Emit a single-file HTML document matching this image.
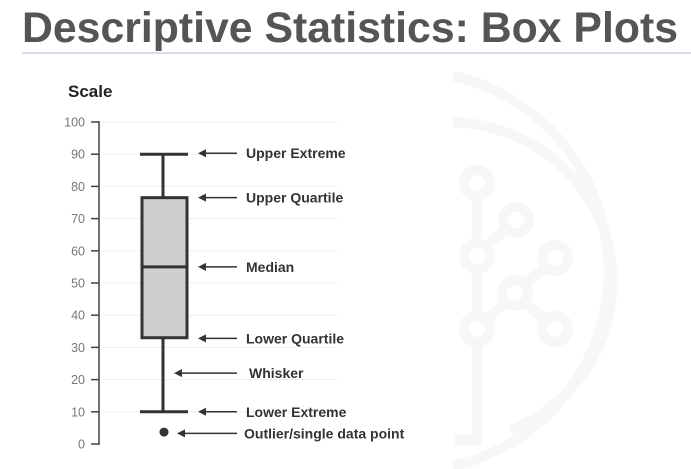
<!DOCTYPE html>
<html><head><meta charset="utf-8"><style>
html,body{margin:0;padding:0;background:#fff;}
body{width:691px;height:469px;overflow:hidden;position:relative;font-family:"Liberation Sans",sans-serif;}
</style></head><body>
<svg id="chart" width="691" height="469" viewBox="0 0 691 469" xmlns="http://www.w3.org/2000/svg" style="position:absolute;left:0;top:0">
  <g fill="none" stroke="#f7f7f9" stroke-width="10">
    <path d="M453,76 A200,200 0 0 1 453,466"/>
    <path d="M453,122 A165,160 0 0 1 510,430"/>
    <path d="M477,197 V242 M477,270 V315 M477,343 V440 H455"/>
    <circle cx="477" cy="183" r="13"/>
    <circle cx="516" cy="220" r="13"/>
    <circle cx="477" cy="256" r="13"/>
    <circle cx="515" cy="293" r="13"/>
    <circle cx="555" cy="258" r="13"/>
    <circle cx="555" cy="329" r="13"/>
    <circle cx="477" cy="329" r="13"/>
    <path d="M487,246 L506,229 M487,319 L505,302 M525,284 L545,267 M525,302 L545,320"/>
  </g>
  <text x="22" y="42" font-size="43" font-weight="bold" fill="#555" textLength="656" lengthAdjust="spacingAndGlyphs">Descriptive Statistics: Box Plots</text>
  <line x1="22" y1="53" x2="691" y2="53" stroke="#b8b8cc" stroke-width="1"/>
  <text x="68" y="97" font-size="17" font-weight="bold" fill="#222">Scale</text>
  <g id="plot"></g>
</svg>
<script>
const ticks = [0,10,20,30,40,50,60,70,80,90,100];
const lowerExtreme = 10;
const lowerQuartile = 33;
const median = 55;
const upperQuartile = 76.5;
const upperExtreme = 90;
const outliers = [3.7];
const annotLabels = ["Upper Extreme","Upper Quartile","Median","Lower Quartile","Whisker","Lower Extreme","Outlier/single data point"];
const annotValues = [90.3, 76.5, 55, 32.8, 22, 10, 3.3];

const NS="http://www.w3.org/2000/svg";
const g=document.getElementById('plot');
const y0=444, y100=122;
function y(v){return y0+(y100-y0)*v/100;}
const cx=163, bx1=142, bx2=187;
function mk(tag,attrs,parent){const e=document.createElementNS(NS,tag);for(const k in attrs)e.setAttribute(k,attrs[k]);(parent||g).appendChild(e);return e;}

ticks.forEach(t=>{
  if(t>0){const gl=mk('line',{x1:103,x2:337,y1:y(t),y2:y(t),stroke:'#ededed','stroke-width':1});
  
  }
  const tk=mk('line',{x1:91,x2:99,y1:y(t),y2:y(t),stroke:'#444','stroke-width':1.5});
  
  
  const tl=mk('text',{x:85,y:y(t)+4.5,'font-size':12.5,fill:'#777','text-anchor':'end'});
  tl.textContent=t;
  
  
});
const ax=mk('line',{x1:99,x2:99,y1:y(100)-1,y2:y(0)+1,stroke:'#444','stroke-width':1.5});



const wh=mk('line',{x1:cx,x2:cx,y1:y(upperExtreme),y2:y(lowerExtreme),stroke:'#333','stroke-width':3});


[upperExtreme,lowerExtreme].forEach((v,i)=>{
  const c=mk('line',{x1:bx1-2,x2:bx2+1,y1:y(v),y2:y(v),stroke:'#333','stroke-width':3});
  
  
});
const box=mk('rect',{x:bx1,y:y(upperQuartile),width:bx2-bx1,height:y(lowerQuartile)-y(upperQuartile),fill:'#cfcfcf',stroke:'#333','stroke-width':3});


const md=mk('line',{x1:bx1,x2:bx2,y1:y(median),y2:y(median),stroke:'#333','stroke-width':3});


outliers.forEach(v=>{
  const o=mk('circle',{cx:cx+1,cy:y(v),r:4.5,fill:'#333'});
  
  
});

annotLabels.forEach((lab,i)=>{
  const yy=y(annotValues[i]);
  const isW=lab==="Whisker", isO=i===6;
  const hx=isW?174:(isO?177:198), tx=237;
  const a=mk('line',{x1:hx+6,x2:tx,y1:yy,y2:yy,stroke:'#333','stroke-width':1.5});
  
  
  const h=mk('path',{d:`M${hx},${yy} L${hx+8},${yy-4} L${hx+8},${yy+4} Z`,fill:'#333'});
  
  
  const t=mk('text',{x:isW?249:(isO?244:246),y:yy+5,'font-size':14,'font-weight':'bold',fill:'#333'});
  t.textContent=lab;
  
  
});
</script>
</body></html>
